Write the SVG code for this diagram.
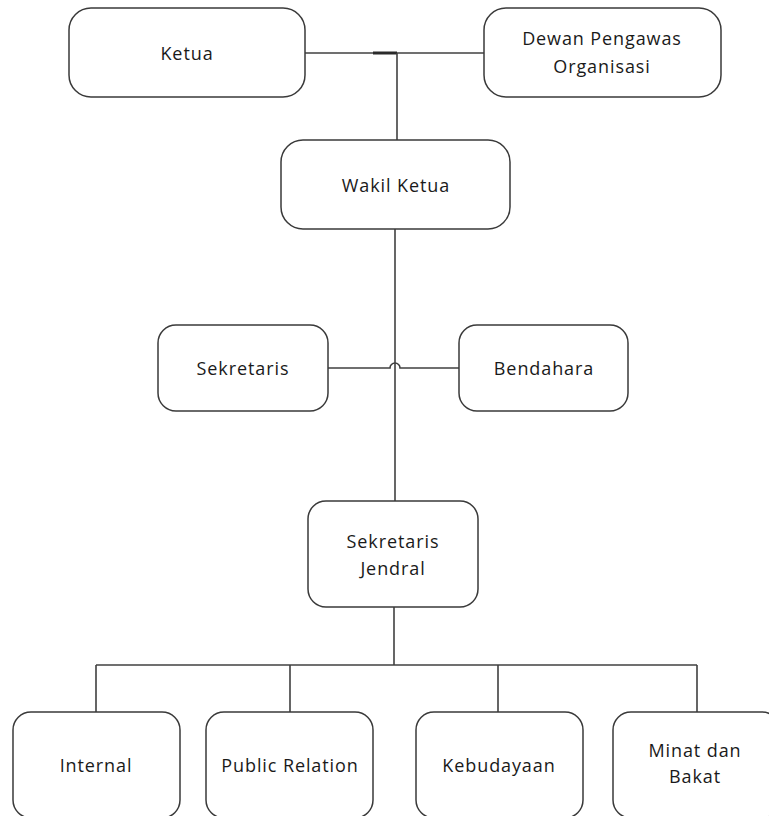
<svg xmlns="http://www.w3.org/2000/svg" width="769" height="816" viewBox="0 0 769 816">
<style>
.box{fill:#ffffff;stroke:#3a3a3a;stroke-width:1.5}
.lbl{font-family:"Open Sans","DejaVu Sans",sans-serif;font-size:18px;letter-spacing:0.9px;fill:#1a1a1a;text-anchor:middle}
.ln{fill:none;stroke:#404040;stroke-width:1.6}
</style>
<rect width="769" height="816" fill="#ffffff"/>
<g id="connectors">
<path class="ln" d="M305,53 H484"/>
<path d="M373,53 H397" stroke="#2a2a2a" stroke-width="3" fill="none"/>
<path class="ln" d="M397,53 V140"/>
<path class="ln" d="M395,229 V501"/>
<path class="ln" d="M328,368 H390 A5,5 0 0 1 400,368 H459"/>
<path class="ln" d="M394,607 V665"/>
<path class="ln" d="M96,665 H697"/>
<path class="ln" d="M96,665 V712 M290,665 V712 M498,665 V712 M697,665 V712"/>
</g>
<g id="ketua"><rect class="box" x="69" y="8" width="236" height="89" rx="22"/><text class="lbl" x="187" y="60">Ketua</text></g>
<g id="dewan"><rect class="box" x="484" y="8" width="237" height="89" rx="22"/><text class="lbl" x="602" y="45">Dewan Pengawas</text><text class="lbl" x="602" y="73">Organisasi</text></g>
<g id="wakil"><rect class="box" x="281" y="140" width="229" height="89" rx="22"/><text class="lbl" x="396" y="192">Wakil Ketua</text></g>
<g id="sekretaris"><rect class="box" x="158" y="325" width="170" height="86" rx="18"/><text class="lbl" x="243" y="375">Sekretaris</text></g>
<g id="bendahara"><rect class="box" x="459" y="325" width="169" height="86" rx="18"/><text class="lbl" x="544" y="375">Bendahara</text></g>
<g id="sekjen"><rect class="box" x="308" y="501" width="170" height="106" rx="18"/><text class="lbl" x="393" y="548">Sekretaris</text><text class="lbl" x="393" y="575">Jendral</text></g>
<g id="internal"><rect class="box" x="13" y="712" width="167" height="106" rx="18"/><text class="lbl" x="96" y="772">Internal</text></g>
<g id="public"><rect class="box" x="206" y="712" width="167" height="106" rx="18"/><text class="lbl" x="290" y="772">Public Relation</text></g>
<g id="kebudayaan"><rect class="box" x="416" y="712" width="167" height="106" rx="18"/><text class="lbl" x="499" y="772">Kebudayaan</text></g>
<g id="minat"><rect class="box" x="613" y="712" width="167" height="106" rx="18"/><text class="lbl" x="695" y="757">Minat dan</text><text class="lbl" x="695" y="783">Bakat</text></g>
</svg>
